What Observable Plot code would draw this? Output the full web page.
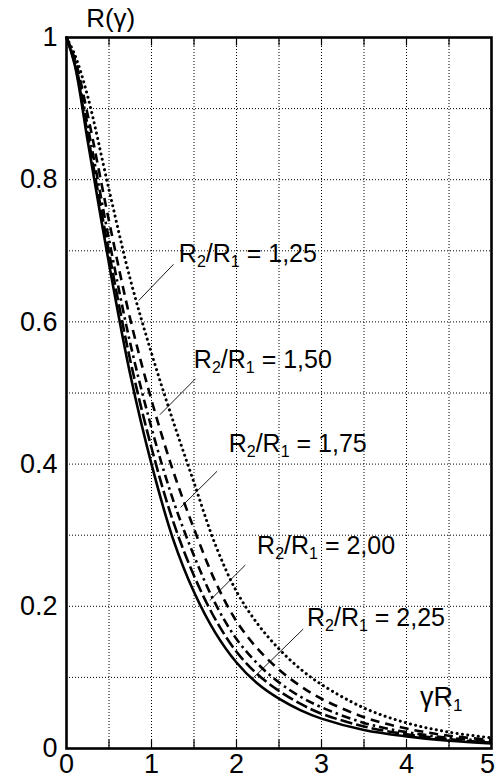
<!DOCTYPE html>
<html>
<head>
<meta charset="utf-8">
<script src="https://cdn.jsdelivr.net/npm/d3@7"></script>
<script src="https://cdn.jsdelivr.net/npm/@observablehq/plot@0.6"></script>
<style>
  html, body { margin: 0; padding: 0; background: #fff; }
  #chart { width: 497px; height: 781px; }
</style>
</head>
<body>
<div id="chart"></div>
<script>
// ---- data ----
const gammaR1 = [0, 0.1, 0.25, 0.5, 0.75, 1, 1.25, 1.5, 1.75, 2, 2.25, 2.5, 2.75, 3, 3.5, 4, 4.5, 5];
const r125 = [1, 0.975, 0.917, 0.786, 0.660, 0.556, 0.462, 0.374, 0.287, 0.221, 0.175, 0.140, 0.112, 0.090, 0.057, 0.036, 0.023, 0.015];
const r150 = [1, 0.969, 0.891, 0.742, 0.604, 0.490, 0.392, 0.309, 0.235, 0.179, 0.140, 0.111, 0.088, 0.070, 0.044, 0.028, 0.018, 0.012];
const r175 = [1, 0.965, 0.875, 0.716, 0.570, 0.451, 0.351, 0.271, 0.204, 0.154, 0.119, 0.093, 0.073, 0.058, 0.036, 0.023, 0.015, 0.010];
const r200 = [1, 0.962, 0.863, 0.698, 0.546, 0.423, 0.321, 0.243, 0.182, 0.136, 0.104, 0.081, 0.063, 0.049, 0.031, 0.020, 0.013, 0.008];
const r225 = [1, 0.960, 0.854, 0.682, 0.526, 0.400, 0.296, 0.220, 0.163, 0.121, 0.091, 0.070, 0.054, 0.042, 0.026, 0.017, 0.011, 0.007];
const ratios = ["1,25", "1,50", "1,75", "2,00", "2,25"];
const seriesValues = [r125, r150, r175, r200, r225];

const xTicks = [0, 1, 2, 3, 4, 5];
const yTicks = [0, 0.2, 0.4, 0.6, 0.8, 1];
const xGrid = [0.5, 1, 1.5, 2, 2.5, 3, 3.5, 4, 4.5];
const yGrid = [0.1, 0.2, 0.3, 0.4, 0.5, 0.6, 0.7, 0.8, 0.9];

// label anchors and leader lines (data coordinates)
const labelX = [1.322, 1.498, 1.908, 2.242, 2.829];
const labelY = [0.684, 0.535, 0.4165, 0.2735, 0.1727];
const leaderX1 = [1.259, 1.518, 1.772, 2.104, 2.785];
const leaderY1 = [0.681, 0.520, 0.390, 0.258, 0.168];
const leaderX2 = [0.849, 1.099, 1.342, 1.685, 2.198];
const leaderY2 = [0.630, 0.4695, 0.339, 0.208, 0.0995];

// ---- build tables ----
const table = ratios.flatMap((r, i) => gammaR1.map((x, j) => ({ratio: r, x, y: seriesValues[i][j]})));
const labels = ratios.map((r, i) => ({text: `R_2/R_1 = ${r}`, x: labelX[i], y: labelY[i]}));
const leaders = ratios.map((r, i) => ({x1: leaderX1[i], y1: leaderY1[i], x2: leaderX2[i], y2: leaderY2[i]}));

const styles = {
  "1,25": {dash: "0.1,5.2", width: 3, cap: "round"},
  "1,50": {dash: "9,6", width: 2.6, cap: "butt"},
  "1,75": {dash: "9,4,2.5,4", width: 2.6, cap: "butt"},
  "2,00": {dash: "12,4", width: 2.6, cap: "butt"},
  "2,25": {dash: null, width: 2.6, cap: "butt"}
};

const font = "'Liberation Sans', Arial, Helvetica, sans-serif";

const lineMarks = ratios.map(r => Plot.line(table.filter(d => d.ratio === r), {
  x: "x", y: "y", stroke: "black",
  strokeWidth: styles[r].width,
  strokeDasharray: styles[r].dash || undefined,
  strokeLinecap: styles[r].cap,
  curve: "catmull-rom"
}));

const chart = Plot.plot({
  width: 497,
  height: 781,
  marginLeft: 66,
  marginRight: 6,
  marginTop: 37,
  marginBottom: 33,
  style: {fontFamily: font, fontSize: "27px", color: "black", background: "white", overflow: "visible"},
  x: {domain: [0, 5], ticks: xTicks, tickSize: 0, tickPadding: 5, label: null, tickFormat: d => String(d)},
  y: {domain: [0, 1], ticks: yTicks, tickSize: 0, tickPadding: 9, label: null, tickFormat: d => String(d)},
  marks: [
    Plot.ruleX(xGrid, {stroke: "black", strokeWidth: 1, strokeDasharray: "1,2"}),
    Plot.ruleY(yGrid, {stroke: "black", strokeWidth: 1, strokeDasharray: "1,2"}),
    Plot.ruleX(xGrid, {y1: 0, y2: 0.012, stroke: "black", strokeWidth: 1.2}),
    Plot.ruleX(xGrid, {y1: 1, y2: 0.988, stroke: "black", strokeWidth: 1.2}),
    ...lineMarks,
    Plot.link(leaders, {x1: "x1", y1: "y1", x2: "x2", y2: "y2", stroke: "black", strokeWidth: 0.9}),
    Plot.text(labels, {x: "x", y: "y", text: "text", textAnchor: "start", lineAnchor: "bottom", fontSize: 25, fill: "black"}),
    Plot.text(["R(γ)"], {x: 0.52, y: 1, text: d => d, dy: -11, textAnchor: "middle", lineAnchor: "bottom", fontSize: 26, fill: "black"}),
    Plot.text(["γR_1"], {x: 4.16, y: 0.06, text: d => d, textAnchor: "start", lineAnchor: "bottom", fontSize: 27, fill: "black"}),
    Plot.frame({stroke: "black", strokeWidth: 2.6})
  ]
});

document.getElementById("chart").appendChild(chart);

// keep the last x tick label inside the picture, as in the reference
chart.querySelectorAll("text").forEach(t => {
  if (t.textContent === "5") t.setAttribute("dx", -4);
});

// turn "_d" markers into subscript tspans
chart.querySelectorAll("text").forEach(t => {
  const s = t.textContent;
  if (!s.includes("_")) return;
  const fs = parseFloat(getComputedStyle(t).fontSize) || 24;
  const sub = Math.round(fs * 0.64);
  const shift = Math.round(fs * 0.2);
  while (t.firstChild) t.removeChild(t.firstChild);
  let down = false;
  for (const p of s.split(/(_\d)/)) {
    if (!p) continue;
    const ts = document.createElementNS("http://www.w3.org/2000/svg", "tspan");
    if (p.startsWith("_")) {
      ts.textContent = p.slice(1);
      ts.setAttribute("font-size", sub);
      ts.setAttribute("dy", shift);
      down = true;
    } else {
      ts.textContent = p;
      if (down) { ts.setAttribute("dy", -shift); down = false; }
    }
    t.appendChild(ts);
  }
});
</script>
</body>
</html>
